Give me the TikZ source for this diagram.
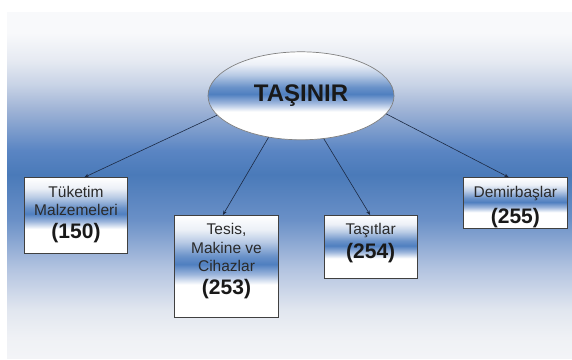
\documentclass[tikz,border=0pt]{standalone}
\usepackage{fontspec}
\setmainfont{Liberation Sans}
\usetikzlibrary{arrows.meta,calc,shapes.geometric}
\definecolor{bgA}{HTML}{F8F9FB}
\definecolor{bgA2}{HTML}{E6EAF2}
\definecolor{bgB}{HTML}{C8D3E6}
\definecolor{bgC}{HTML}{A0B4D6}
\definecolor{bgD}{HTML}{5A85C3}
\definecolor{bgE}{HTML}{4A7AB9}
\definecolor{bgF}{HTML}{6A90C7}
\definecolor{bgG}{HTML}{B2C3E0}
\definecolor{bgH}{HTML}{E1E6EF}
\definecolor{bgI}{HTML}{EFF1F5}
\definecolor{bgJ}{HTML}{F3F4F7}
\definecolor{bxA}{HTML}{9DB6DC}
\definecolor{bxB}{HTML}{4F7FC0}
\definecolor{bxC}{HTML}{6A92C9}
\definecolor{bxD}{HTML}{B9CBE5}
\definecolor{bxE}{HTML}{ECF0F7}
\definecolor{arrowcol}{HTML}{1C2A44}
\definecolor{txtcol}{HTML}{2A2A2A}
\pgfdeclareverticalshading{bgshade}{100bp}{color(0bp)=(bgJ); color(25bp)=(bgJ); color(28bp)=(bgI); color(32bp)=(bgH); color(38bp)=(bgG); color(45bp)=(bgF); color(51.5bp)=(bgE); color(55bp)=(bgD); color(61bp)=(bgC); color(64.5bp)=(bgB); color(68bp)=(bgA2); color(72bp)=(bgA); color(75bp)=(bgA); color(100bp)=(bgA)}
\pgfdeclareverticalshading{boxshade}{100bp}{color(0bp)=(white); color(41bp)=(white); color(46bp)=(bxA); color(51bp)=(bxB); color(55bp)=(bxC); color(62bp)=(bxD); color(68bp)=(bxE); color(75bp)=(white); color(100bp)=(white)}
\tikzset{
  boxnode/.style={draw=black!75, line width=0.7pt, shading=boxshade, rectangle, inner sep=0pt, anchor=north west},
  ellnode/.style={draw=black!50, line width=0.7pt, shading=boxshade, ellipse, inner sep=0pt, minimum width=186pt, minimum height=88pt, font=\fontsize{24}{28}\selectfont\bfseries, text=black!90},
  lbl/.style={anchor=north, inner sep=0pt, align=center, text=txtcol, font=\fontsize{15.5}{18.3}\selectfont},
  conn/.style={draw=arrowcol, line width=0.6pt, -{Stealth[length=4.5pt,width=3.5pt]}},
}
\newcommand{\numtxt}[1]{{\fontsize{21}{18.3}\selectfont\bfseries\color{black!90}#1}}
\begin{document}
\begin{tikzpicture}[x=1pt,y=-1pt]
\useasboundingbox (0,0) rectangle (572,359);
\fill[white] (0,0) rectangle (572,359);
\shade[shading=bgshade] (7,12) rectangle (572,358);

\node[ellnode] (ell) at (301,95.8) {TAŞINIR};

\node[boxnode, minimum width=103.3pt, minimum height=75.4pt] (b1) at (24,177.3) {};
\node[boxnode, minimum width=104.3pt, minimum height=101.7pt] (b2) at (174,215) {};
\node[boxnode, minimum width=92.7pt, minimum height=63.3pt] (b3) at (324,215) {};
\node[boxnode, minimum width=104.6pt, minimum height=51pt] (b4) at (462.7,177.3) {};

\node[lbl] (t1) at ($(b1.north)+(0,8.4)$) {Tüketim\\Malzemeleri\\[5pt]\numtxt{(150)}};
\node[lbl] (t2) at ($(b2.north)+(0,8.4)$) {Tesis,\\Makine ve\\Cihazlar\\[4.5pt]\numtxt{(253)}};
\node[lbl] (t3) at ($(b3.north)+(0,8.4)$) {Taşıtlar\\[4pt]\numtxt{(254)}};
\node[lbl] (t4) at ($(b4.north)+(0,8.4)$) {Demirbaşlar\\[6.7pt]\numtxt{(255)}};

\draw[conn] (ell.193) -- ($(b1.north)+(8.3,0)$);
\draw[conn] (ell.232) -- ($(b2.north)+(-3.6,0)$);
\draw[conn] (ell.298) -- ($(b3.north)+(-0.6,0)$);
\draw[conn] (ell.348) -- ($(b4.north)+(-6.6,0)$);
\end{tikzpicture}
\end{document}
